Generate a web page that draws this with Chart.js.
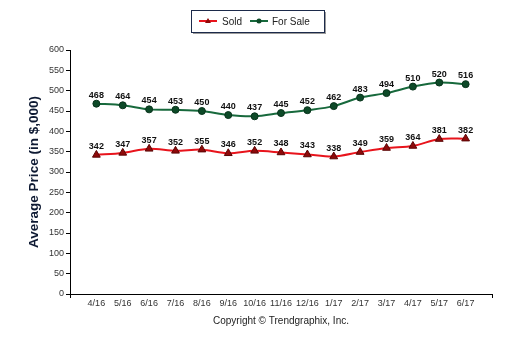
<!DOCTYPE html>
<html><head><meta charset="utf-8">
<script src="https://cdn.jsdelivr.net/npm/chart.js@4"></script>
<style>html,body{margin:0;padding:0;background:#fff}#wrap{width:510px;height:339px}</style>
</head><body><div id="wrap"><canvas id="c" width="510" height="339"></canvas></div>
<script>
const categories = ['4/16','5/16','6/16','7/16','8/16','9/16','10/16','11/16','12/16','1/17','2/17','3/17','4/17','5/17','6/17'];
const soldValues = [342,347,357,352,355,346,352,348,343,338,349,359,364,381,382];
const forSaleValues = [468,464,454,453,450,440,437,445,452,462,483,494,510,520,516];
const yTicks = [0,50,100,150,200,250,300,350,400,450,500,550,600];

const toPts = vals => vals.map((v,i)=>({x:i+1,y:v}));
const SOLD_LINE='#e8141c', SOLD_PT='#8e0a0a', SALE_LINE='#17693c', SALE_PT='#0d4a28';

const labelPlugin = {
  id:'labels',
  afterDatasetsDraw(chart){
    const ctx=chart.ctx;
    ctx.save();
    ctx.font='bold 9px "Liberation Sans", Arial, sans-serif';
    ctx.fillStyle='#111';
    ctx.textAlign='center';
    ctx.textBaseline='bottom';
    chart.data.datasets.forEach((ds,di)=>{
      chart.getDatasetMeta(di).data.forEach((el,i)=>{
        ctx.fillText(String(ds.data[i].y), el.x, el.y-4);
      });
    });
    ctx.restore();
  }
};
const legendPlugin = {
  id:'customLegend',
  afterDraw(chart){
    const ctx=chart.ctx;
    ctx.save();
    const x=191,y=10,w=133,h=22;
    ctx.fillStyle='#9a9a9a';
    ctx.fillRect(x+2,y+2,w,h);
    ctx.fillStyle='#fff';
    ctx.fillRect(x,y,w,h);
    ctx.strokeStyle='#1c2a4a';
    ctx.lineWidth=1;
    ctx.strokeRect(x+0.5,y+0.5,w,h);
    const cy=y+11;
    ctx.strokeStyle=SOLD_LINE; ctx.lineWidth=2;
    ctx.beginPath(); ctx.moveTo(199,cy); ctx.lineTo(217,cy); ctx.stroke();
    ctx.fillStyle=SOLD_PT;
    ctx.beginPath(); ctx.moveTo(208,cy-3); ctx.lineTo(211,cy+2); ctx.lineTo(205,cy+2); ctx.closePath(); ctx.fill();
    ctx.strokeStyle=SALE_LINE;
    ctx.beginPath(); ctx.moveTo(250,cy); ctx.lineTo(268,cy); ctx.stroke();
    ctx.fillStyle=SALE_PT;
    ctx.beginPath(); ctx.arc(259,cy,2.5,0,Math.PI*2); ctx.fill();
    ctx.font='10px "Liberation Sans", Arial, sans-serif';
    ctx.fillStyle='#222'; ctx.textAlign='left'; ctx.textBaseline='middle';
    ctx.fillText('Sold',222,cy+1);
    ctx.fillText('For Sale',272,cy+1);
    ctx.restore();
  }
};

new Chart(document.getElementById('c'),{
  type:'line',
  data:{datasets:[
    {label:'Sold',data:toPts(soldValues),borderColor:SOLD_LINE,backgroundColor:SOLD_PT,pointBorderColor:'#5a0505',pointBorderWidth:1,pointStyle:'triangle',pointRadius:4.5,borderWidth:2,tension:0.3},
    {label:'For Sale',data:toPts(forSaleValues),borderColor:SALE_LINE,backgroundColor:SALE_PT,pointBorderColor:'#08331b',pointBorderWidth:1,pointStyle:'circle',pointRadius:3.5,borderWidth:2,tension:0.3}
  ]},
  options:{
    responsive:false,animation:false,
    layout:{padding:{top:50,right:18,left:0,bottom:8}},
    plugins:{legend:{display:false},tooltip:{enabled:false}},
    scales:{
      x:{type:'linear',min:0,max:16,
        afterBuildTicks(s){s.ticks=[];for(let i=0;i<=16;i++)s.ticks.push({value:i});},
        afterFit(s){s.height=37;},
        ticks:{autoSkip:false,maxRotation:0,padding:0,color:'#333',font:{size:9,family:'"Liberation Sans", Arial, sans-serif'},
          callback:(v)=> (v>=1&&v<=15)?categories[v-1]:''},
        grid:{display:true,drawOnChartArea:false,tickLength:4,
          tickColor:(c)=> (c.tick&&(c.tick.value===0||c.tick.value===16))?'#000':'rgba(0,0,0,0)'},
        border:{color:'#000',width:1},
        title:{display:true,text:'Copyright © Trendgraphix, Inc.',color:'#222',font:{size:10,family:'"Liberation Sans", Arial, sans-serif'},padding:{top:2,bottom:4}}
      },
      y:{min:0,max:600,
        afterBuildTicks(s){s.ticks=yTicks.map(v=>({value:v}));},
        afterFit(s){s.width=70;},
        ticks:{color:'#333',padding:2,font:{size:9,family:'"Liberation Sans", Arial, sans-serif'}},
        grid:{display:true,drawOnChartArea:false,tickLength:4,tickColor:'#000'},
        border:{color:'#000',width:1},
        title:{display:true,text:'Average Price (in $,000)',color:'#0e1a33',font:{size:13.5,weight:'bold',family:'"Liberation Sans", Arial, sans-serif'},padding:{top:26,bottom:0}}
      }
    }
  },
  plugins:[labelPlugin,legendPlugin]
});
</script></body></html>
